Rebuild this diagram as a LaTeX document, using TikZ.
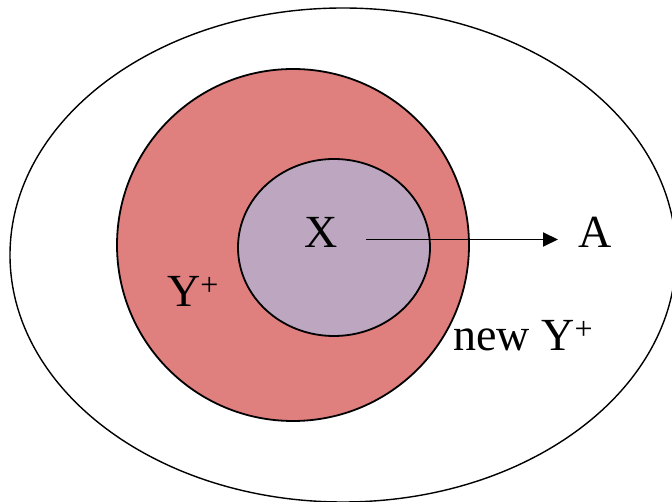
\documentclass[tikz,border=0pt]{standalone}
\usepackage{fontspec}
\setmainfont{Liberation Serif}
\usetikzlibrary{arrows.meta}
\definecolor{setred}{HTML}{DF7F7E}
\definecolor{setpurple}{HTML}{BCA6C0}
\newcommand\supplus{\raisebox{11pt}{\fontsize{32}{32}\selectfont +}}
\tikzset{
  region/.style={draw=black,line width=1.8pt},
  lbl/.style={font=\fontsize{46}{46}\selectfont,inner sep=0pt,anchor=base},
}
\begin{document}
\begin{tikzpicture}[x=1pt,y=-1pt]
\useasboundingbox (0,0) rectangle (672,502);
\fill[white] (0,0) rectangle (672,502);
\draw[line width=1.4pt] (343,255) ellipse [x radius=333,y radius=247];
\draw[region,fill=setred] (293,245) ellipse [x radius=176,y radius=176];
\draw[region,fill=setpurple] (334,247.5) ellipse [x radius=96,y radius=88.5];
\node[lbl] (X) at (321,248) {X};
\node[lbl] (A) at (595,248) {A};
\node[lbl,anchor=base west] (Y) at (167,307) {Y\supplus};
\node[lbl,anchor=base west] (newY) at (453,351) {new Y\supplus};
\coordinate (start) at (366,239.5);
\coordinate (end) at (558,239.5);
\draw[line width=1.9pt,-{Triangle[length=15pt,width=14pt]}] (start) -- (end);
\end{tikzpicture}
\end{document}
